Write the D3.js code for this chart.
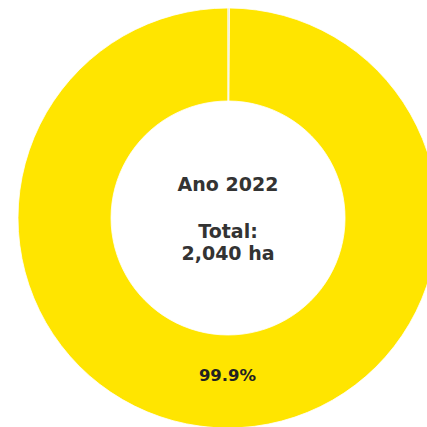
<!DOCTYPE html>
<html>
<head>
<meta charset="utf-8">
<script src="https://cdn.jsdelivr.net/npm/d3@7"></script>
<style>
  html, body { margin: 0; padding: 0; background: #fff; }
  svg { display: block; }
</style>
</head>
<body>
<svg id="chart" width="427" height="427"></svg>
<script>
// Land area by class, year 2022 (ha)
const categories = ["Classe principal", "Outros"];
const values = [2038, 2];
const colors = ["#FFE500", "#D8D8C8"];
const yearLabel = "Ano 2022";
const totalLabel = ["Total:", "2,040 ha"];

const svg = d3.select("#chart");
const cx = 228, cy = 218;
const outerR = 210, innerR = 117;

const total = d3.sum(values);

// Start at 12 o'clock and go counter-clockwise
const pie = d3.pie()
  .sort(null)
  .startAngle(0)
  .endAngle(-2 * Math.PI)
  .value(d => d);

const arcs = pie(values);
const arc = d3.arc().innerRadius(innerR).outerRadius(outerR);

const g = svg.append("g").attr("transform", `translate(${cx},${cy})`);

g.selectAll("path.slice")
  .data(arcs)
  .join("path")
  .attr("class", "slice")
  .attr("d", arc)
  .attr("fill", (d, i) => colors[i])
  .attr("stroke", "#fff")
  .attr("stroke-width", 0.8);

// Percentage label for slices large enough to show one
const labelR = 157.5;
const labelArc = d3.arc().innerRadius(labelR).outerRadius(labelR);
g.selectAll("text.pct")
  .data(arcs.filter(d => d.data / total > 0.05))
  .join("text")
  .attr("class", "pct")
  .attr("transform", d => `translate(${labelArc.centroid(d)})`)
  .attr("text-anchor", "middle")
  .attr("dy", "0.36em")
  .attr("font-family", "DejaVu Sans, sans-serif")
  .attr("font-weight", "bold")
  .attr("font-size", 16.5)
  .attr("fill", "#222")
  .text(d => (d.data / total * 100).toFixed(1) + "%");

// Centre caption
const center = g.append("text")
  .attr("text-anchor", "middle")
  .attr("font-family", "DejaVu Sans, sans-serif")
  .attr("font-weight", "bold")
  .attr("font-size", 19)
  .attr("fill", "#333");
center.append("tspan").attr("x", 0).attr("y", -27).text(yearLabel);
center.append("tspan").attr("x", 0).attr("y", 20).text(totalLabel[0]);
center.append("tspan").attr("x", 0).attr("y", 42).text(totalLabel[1]);
</script>
</body>
</html>
